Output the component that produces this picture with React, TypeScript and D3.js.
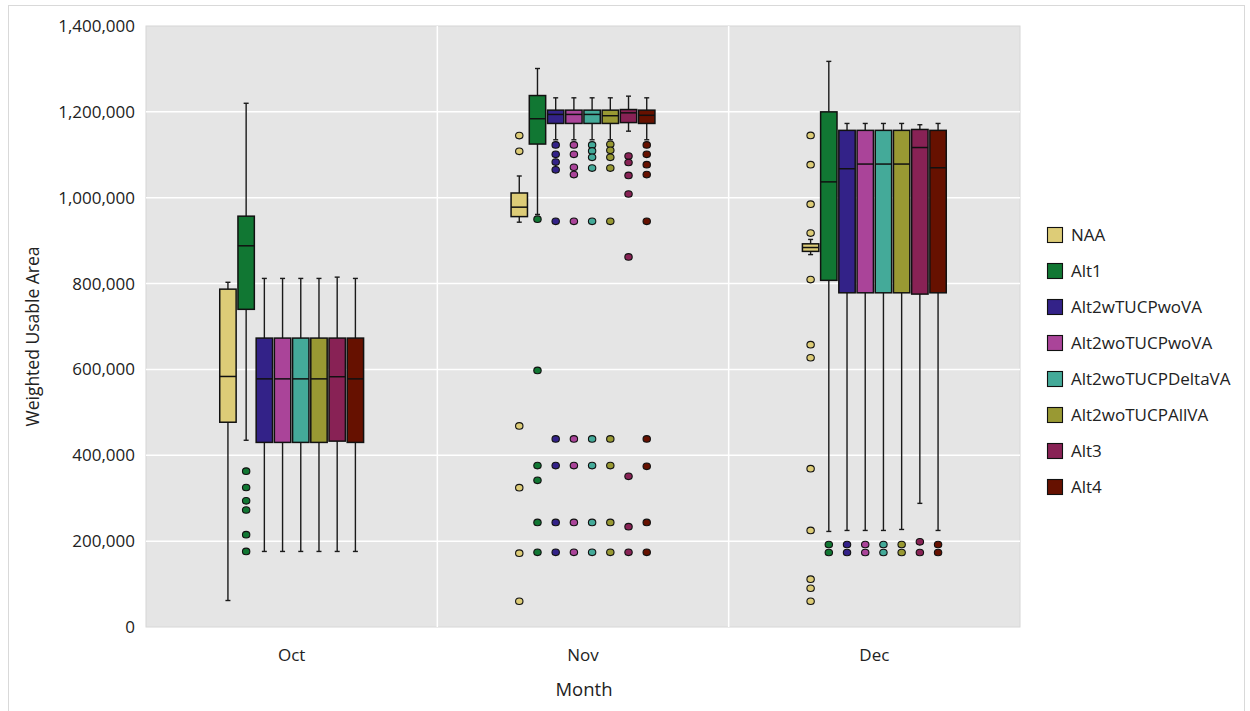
import React, { useEffect } from "react";
import * as d3 from "d3";

// Months on the x axis and the scenario series drawn in each month
const months = ["Oct", "Nov", "Dec"];
const seriesNames = [
  "NAA",
  "Alt1",
  "Alt2wTUCPwoVA",
  "Alt2woTUCPwoVA",
  "Alt2woTUCPDeltaVA",
  "Alt2woTUCPAllVA",
  "Alt3",
  "Alt4",
];
const seriesColors = ["#DDCC77", "#117733", "#332288", "#AA4499", "#44AA99", "#999933", "#882255", "#661100"];

// Box summaries per series: [whiskerLow, q1, median, q3, whiskerHigh] for Oct, Nov, Dec
const naaBoxes = [
  [61700, 477000, 583600, 787000, 803000],
  [943000, 956000, 978000, 1011000, 1050600],
  [867500, 875000, 884000, 892600, 902800],
];
const alt1Boxes = [
  [435000, 740000, 888000, 957000, 1220000],
  [961000, 1125000, 1184000, 1238000, 1301000],
  [222600, 807500, 1036900, 1200000, 1317600],
];
const alt2wBoxes = [
  [176000, 430000, 578000, 673000, 812000],
  [1135000, 1173000, 1194000, 1204000, 1232700],
  [224900, 778500, 1067500, 1156900, 1173000],
];
const alt2woBoxes = [
  [176000, 430000, 578000, 673000, 812000],
  [1135000, 1173000, 1194000, 1204000, 1232700],
  [224900, 778500, 1078400, 1156900, 1173000],
];
const deltaBoxes = [
  [176000, 430000, 578000, 673000, 812000],
  [1135000, 1173000, 1194000, 1204000, 1232700],
  [224900, 778500, 1078400, 1156900, 1173000],
];
const allVaBoxes = [
  [176000, 430000, 578000, 673000, 812000],
  [1135000, 1173000, 1191000, 1204000, 1232700],
  [227200, 778500, 1078400, 1156900, 1173000],
];
const alt3Boxes = [
  [176000, 433000, 583000, 673000, 815000],
  [1155000, 1175000, 1197700, 1205400, 1236600],
  [288000, 775500, 1116900, 1159000, 1170000],
];
const alt4Boxes = [
  [176000, 430000, 578000, 673000, 812000],
  [1135000, 1173000, 1192000, 1204000, 1232700],
  [224900, 778500, 1069800, 1156900, 1173000],
];

// Outlying values per series for Oct, Nov, Dec
const naaOutliers = [
  [],
  [1144700, 1108000, 468500, 324500, 172000, 60000],
  [1145000, 1076900, 985000, 917600, 809400, 657600, 627200, 368900, 224900, 111300, 90300, 60000],
];
const alt1Outliers = [
  [363000, 325000, 294000, 272500, 215000, 176000],
  [950000, 597700, 376000, 341600, 243600, 174000],
  [192200, 173500],
];
const alt2wOutliers = [
  [],
  [1123000, 1101000, 1083000, 1065000, 945000, 438000, 376000, 243600, 174000],
  [192200, 173500],
];
const alt2woOutliers = [
  [],
  [1123000, 1101000, 1071000, 1054000, 945000, 438000, 376000, 243600, 174000],
  [192200, 173500],
];
const deltaOutliers = [
  [],
  [1123000, 1109000, 1094000, 1069000, 945000, 438000, 376000, 243600, 174000],
  [192200, 173500],
];
const allVaOutliers = [
  [],
  [1124500, 1110500, 1094000, 1069000, 945000, 438000, 376000, 243600, 174000],
  [192200, 173500],
];
const alt3Outliers = [
  [],
  [1097000, 1082000, 1052000, 1008600, 862000, 351000, 233600, 174000],
  [198400, 173500],
];
const alt4Outliers = [
  [],
  [1123000, 1101000, 1077000, 1054000, 945000, 438000, 374300, 243600, 174000],
  [192200, 173500],
];

const yTicks = [0, 200000, 400000, 600000, 800000, 1000000, 1200000, 1400000];

const allBoxes = [naaBoxes, alt1Boxes, alt2wBoxes, alt2woBoxes, deltaBoxes, allVaBoxes, alt3Boxes, alt4Boxes];
const allOutliers = [
  naaOutliers, alt1Outliers, alt2wOutliers, alt2woOutliers,
  deltaOutliers, allVaOutliers, alt3Outliers, alt4Outliers,
];

const W = 1250;
const H = 711;
const plot = { left: 146, right: 1020, top: 26, bottom: 627 };
const FONT = "'Open Sans', 'Noto Sans', sans-serif";
const TEXT = "#222222";

export default function App() {
  useEffect(() => {
    document.body.style.margin = "0";
  }, []);

  const x = d3.scaleBand<string>().domain(months).range([plot.left, plot.right]).padding(0);
  const y = d3.scaleLinear().domain([0, 1400000]).range([plot.bottom, plot.top]);
  const dodgeWidth = x.bandwidth() * 0.5;
  const inner = d3
    .scaleBand<string>()
    .domain(seriesNames)
    .range([-dodgeWidth / 2, dodgeWidth / 2])
    .paddingInner(0.1)
    .paddingOuter(0.05);
  const bw = inner.bandwidth();
  const fmt = d3.format(",");
  const capW = 5;

  return (
    <svg width={W} height={H} style={{ display: "block", fontFamily: FONT }}>
      <rect x={8.5} y={5.5} width={1236} height={710} fill="#ffffff" stroke="#d9d9d9" />
      <rect
        x={plot.left}
        y={plot.top}
        width={plot.right - plot.left}
        height={plot.bottom - plot.top}
        fill="#e5e5e5"
        stroke="#d6d6d6"
        strokeWidth={1}
      />
      {yTicks.map((t) => (
        <g key={t}>
          {t > 0 && t < 1400000 && (
            <line x1={plot.left} x2={plot.right} y1={y(t)} y2={y(t)} stroke="#ffffff" strokeWidth={1.5} />
          )}
          <text x={135} y={y(t)} dy="0.35em" textAnchor="end" fontSize={17} fill={TEXT}>
            {fmt(t)}
          </text>
        </g>
      ))}
      {months.slice(1).map((m) => (
        <line key={m} x1={x(m)!} x2={x(m)!} y1={plot.top} y2={plot.bottom} stroke="#ffffff" strokeWidth={1.5} />
      ))}
      {months.map((m) => (
        <text key={m} x={x(m)! + x.bandwidth() / 2} y={655} dy="0.35em" textAnchor="middle" fontSize={17} fill={TEXT}>
          {m}
        </text>
      ))}
      <text x={584} y={690} dy="0.35em" textAnchor="middle" fontSize={18.5} fill={TEXT}>
        Month
      </text>
      <text
        transform={`translate(33, ${(plot.top + plot.bottom) / 2 + 10}) rotate(-90)`}
        dy="0.35em"
        textAnchor="middle"
        fontSize={17.5}
        fill={TEXT}
      >
        Weighted Usable Area
      </text>

      {months.map((m, mi) =>
        seriesNames.map((s, si) => {
          const [lo, q1, med, q3, hi] = allBoxes[si][mi];
          const x0 = x(m)! + x.bandwidth() / 2 + inner(s)!;
          const cx = x0 + bw / 2;
          const color = seriesColors[si];
          return (
            <g key={`${m}-${s}`}>
              <line x1={cx} x2={cx} y1={y(hi)} y2={y(q3)} stroke="#1a1a1a" strokeWidth={1.4} />
              <line x1={cx} x2={cx} y1={y(q1)} y2={y(lo)} stroke="#1a1a1a" strokeWidth={1.4} />
              <line x1={cx - capW / 2} x2={cx + capW / 2} y1={y(hi)} y2={y(hi)} stroke="#1a1a1a" strokeWidth={1.4} />
              <line x1={cx - capW / 2} x2={cx + capW / 2} y1={y(lo)} y2={y(lo)} stroke="#1a1a1a" strokeWidth={1.4} />
              <rect
                x={x0}
                y={y(q3)}
                width={bw}
                height={Math.max(0, y(q1) - y(q3))}
                fill={color}
                stroke="#111111"
                strokeWidth={1.5}
              />
              <line x1={x0} x2={x0 + bw} y1={y(med)} y2={y(med)} stroke="#111111" strokeWidth={1.5} />
              {allOutliers[si][mi].map((v, oi) => (
                <ellipse key={oi} cx={cx} cy={y(v)} rx={3.7} ry={3.3} fill={color} stroke="#111111" strokeWidth={1.1} />
              ))}
            </g>
          );
        })
      )}

      {seriesNames.map((s, si) => {
        const ly = 235 + si * 36;
        return (
          <g key={s}>
            <rect x={1047.5} y={ly - 7.5} width={15} height={15} fill={seriesColors[si]} stroke="#111111" strokeWidth={1.1} />
            <text x={1071} y={ly} dy="0.35em" fontSize={17} fill={TEXT}>
              {s}
            </text>
          </g>
        );
      })}
    </svg>
  );
}
